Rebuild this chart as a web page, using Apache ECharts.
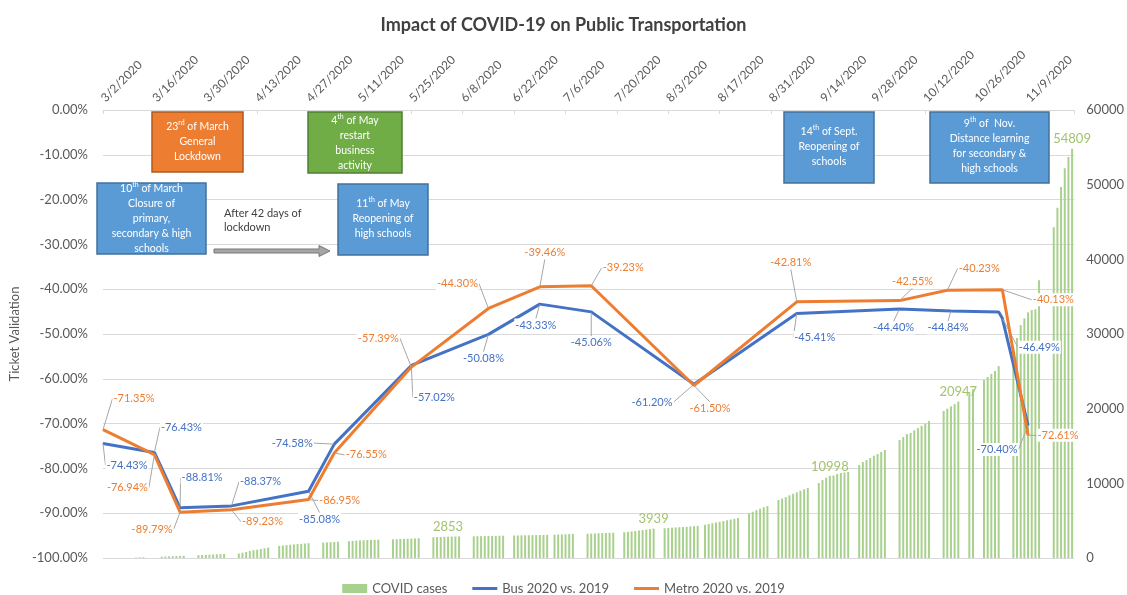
<!DOCTYPE html>
<html>
<head>
<meta charset="utf-8">
<script src="https://cdn.jsdelivr.net/npm/echarts@6/dist/echarts.min.js"></script>
<style>
  html, body { margin: 0; padding: 0; background: #fff; }
  #chart { width: 1127px; height: 595px; }
</style>
</head>
<body>
<div id="chart"></div>
<script>
// top axis tick labels, one every 14 days starting 3/2/2020 (day 0)
var dateLabels = ['3/2/2020','3/16/2020','3/30/2020','4/13/2020','4/27/2020','5/11/2020','5/25/2020',
  '6/8/2020','6/22/2020','7/6/2020','7/20/2020','8/3/2020','8/17/2020','8/31/2020','9/14/2020',
  '9/28/2020','10/12/2020','10/26/2020','11/9/2020'];

// [day, % change vs 2019]
var busData = [[0,-74.43],[14,-76.43],[21,-88.81],[35,-88.37],[56,-85.08],[63,-74.58],[84,-57.02],
  [105,-50.08],[119,-43.33],[133,-45.06],[161,-61.20],[189,-45.41],[217,-44.40],[231,-44.84],
  [244,-45.10],[245,-46.49],[252,-70.40]];
var metroData = [[0,-71.35],[14,-76.94],[21,-89.79],[35,-89.23],[56,-86.95],[63,-76.55],[84,-57.39],
  [105,-44.30],[119,-39.46],[133,-39.23],[161,-61.50],[189,-42.81],[217,-42.55],[230,-40.23],
  [245,-40.13],[252,-72.61]];

// [day, cumulative covid cases]
var covidCases = [
  [9,60],[10,80],[11,100],
  [16,180],[17,200],[18,220],[19,240],[20,260],[21,280],[22,300],
  [26,380],[27,400],[28,430],[29,450],[30,470],[31,490],[32,510],[33,530],
  [37,600],[38,700],[39,820],[40,930],[41,1050],[42,1110],[43,1200],[44,1300],[45,1400],
  [48,1620],[49,1680],[50,1730],[51,1780],[52,1820],[53,1860],[54,1900],[55,1940],[56,1980],
  [60,2060],[61,2090],[62,2120],[63,2150],[64,2180],
  [67,2250],[68,2290],[69,2320],[70,2350],[71,2380],[72,2400],[73,2420],[74,2440],[75,2460],
  [79,2500],[80,2520],[81,2540],[82,2560],[83,2580],[84,2600],[85,2620],[86,2640],
  [90,2780],[91,2800],[92,2820],[93,2836],[94,2853],[95,2870],[96,2880],[97,2890],
  [101,2910],[102,2920],[103,2930],[104,2940],[105,2950],[106,2960],[107,2970],[108,2980],[109,2990],
  [112,3010],[113,3020],[114,3030],[115,3040],[116,3050],[117,3060],[118,3070],[119,3080],[120,3090],[121,3100],
  [123,3120],[124,3140],[125,3160],[126,3180],[127,3200],[128,3220],
  [132,3250],[133,3270],[134,3290],[135,3310],[136,3330],[137,3350],[138,3370],[139,3390],
  [142,3450],[143,3500],[144,3560],[145,3620],[146,3680],[147,3740],[148,3800],[149,3870],[150,3939],
  [153,3990],[154,4030],[155,4060],[156,4090],[157,4120],[158,4150],[159,4180],[160,4220],[161,4260],[162,4300],
  [164,4450],[165,4550],[166,4650],[167,4750],[168,4850],[169,4950],[170,5050],[171,5150],[172,5250],[173,5350],
  [176,6000],[177,6200],[178,6400],[179,6600],[180,6800],[181,6950],
  [184,7770],[185,7950],[186,8150],[187,8400],[188,8600],[189,8800],[190,9000],[191,9200],[192,9370],
  [195,10040],[196,10440],[197,10750],[198,10998],[199,11050],[200,11250],[201,11380],[202,11450],[203,11520],
  [206,12450],[207,12850],[208,13120],[209,13400],[210,13700],[211,13930],[212,14190],[213,14460],
  [217,15800],[218,16200],[219,16600],[220,16750],[221,17100],[222,17400],[223,17700],[224,18000],[225,18340],
  [229,19700],[230,20000],[231,20300],[232,20600],[233,20947],
  [236,22230],[237,22600],
  [240,23830],[241,24240],[242,24640],[243,25040],[244,25700],
  [248,28000],[249,29460],[250,31200],[251,32100],[252,32900],[253,33200],[254,33300],[255,37200],
  [259,44300],[260,46900],[261,49700],[262,52200],[263,53700],[264,54809]
];
var labelledCaseDays = [94,150,198,233,264];

// label placement (px from point) for each line point, null = no label
var busLabelOffsets = [[24,22],[27,-25],[22,-30],[29,-24],[11,28],[-42,-1],[23,32],[-5,24],[-4,21],
  [0,31],[-42,18],[18,24],[-6,19],[-3,17],null,[37,29],[-31,24]];
var metroLabelOffsets = [[31,-31],[-27,33],[-28,17],[31,12],[31,1],[32,2],[-33,-29],[-31,-25],[5,-34],
  [32,-18],[16,23],[-6,-39],[13,-19],[32,-22],[51,10],[30,0]];

var FONT = 'Lato';
var chart = echarts.init(document.getElementById('chart'));

function lineLabel(color) {
  return {
    show: true, position: 'inside', color: color, fontSize: 11, fontFamily: FONT,
    backgroundColor: '#fff', padding: [1, 1],
    formatter: function (p) { return p.value[1].toFixed(2) + '%'; }
  };
}

function lineItems(data, offsets) {
  return data.map(function (d, i) {
    return offsets[i] ? d : { value: d, label: { show: false }, labelLine: { show: false } };
  });
}

function layoutFor(offsets) {
  return function (p) {
    var o = offsets[p.dataIndex];
    return o ? { dx: o[0], dy: o[1] } : {};
  };
}

// annotation box
function box(x, y, w, h, fill, stroke, text, cy) {
  return [
    { type: 'rect', z: 50, shape: { x: x, y: y, width: w, height: h },
      style: { fill: fill, stroke: stroke, lineWidth: 1.5 } },
    { type: 'text', z: 51, x: x + w / 2, y: cy,
      style: { text: text, fill: '#fff', fontSize: 10.5, fontFamily: FONT, align: 'center',
        verticalAlign: 'middle', lineHeight: 15,
        rich: { s: { fontSize: 7, verticalAlign: 'top', fill: '#fff', fontFamily: FONT, lineHeight: 15, padding: [0, 0, 6, 0] } } } }
  ];
}

var graphics = [].concat(
  box(97, 183, 109, 71, '#5B9BD5', '#41719C', '10{s|th} of March\nClosure of\nprimary,\nsecondary & high\nschools', 219),
  box(152, 112, 91, 60, '#ED7D31', '#AE5A21', '23{s|rd} of March\nGeneral\nLockdown', 142),
  box(308, 112, 94, 61, '#70AD47', '#507E32', '4{s|th} of May\nrestart\nbusiness\nactivity', 143),
  box(338, 184, 90, 71, '#5B9BD5', '#41719C', '11{s|th} of May\nReopening of\nhigh schools', 219),
  box(784, 112, 90, 71, '#5B9BD5', '#41719C', '14{s|th} of Sept.\nReopening of\nschools', 147),
  box(930, 112, 119, 71, '#5B9BD5', '#41719C', '9{s|th} of  Nov.\nDistance learning\nfor secondary &\nhigh schools', 146),
  [
    { type: 'text', z: 51, x: 224, y: 220,
      style: { text: 'After 42 days of\nlockdown', fill: '#404040', fontSize: 11, fontFamily: FONT,
        align: 'left', verticalAlign: 'middle', lineHeight: 14 } },
    { type: 'polygon', z: 51,
      shape: { points: [[214,249],[319,249],[319,245.5],[330,251],[319,256.5],[319,253],[214,253]] },
      style: { fill: '#A5A5A5', stroke: '#787878', lineWidth: 1 } }
  ]
);

var option = {
  animation: false,
  textStyle: { fontFamily: FONT },
  title: {
    text: 'Impact of COVID-19 on Public Transportation',
    left: 'center', top: 11,
    textStyle: { fontSize: 18, fontWeight: 'bold', color: '#404040', fontFamily: FONT }
  },
  legend: {
    bottom: -5, left: 'center', itemGap: 25, itemWidth: 25, itemHeight: 9,
    textStyle: { color: '#595959', fontSize: 13, fontFamily: FONT },
    data: [
      { name: 'COVID cases', icon: 'rect' },
      { name: 'Bus 2020 vs. 2019', icon: 'path://M0,0H25V3H0Z' },
      { name: 'Metro 2020 vs. 2019', icon: 'path://M0,0H25V3H0Z' }
    ]
  },
  grid: { left: 103, right: 52, top: 110, bottom: 37 },
  xAxis: {
    type: 'value', position: 'top', min: 0, max: 264.6, interval: 14,
    axisLine: { lineStyle: { color: '#D9D9D9' } },
    axisTick: { inside: true, length: 4, lineStyle: { color: '#D9D9D9' } },
    splitLine: { show: false },
    axisLabel: {
      rotate: 45, margin: 10, color: '#595959', fontSize: 12, fontFamily: FONT,
      formatter: function (v) { return v % 14 === 0 ? dateLabels[v / 14] : ''; }
    }
  },
  yAxis: [
    {
      type: 'value', min: -100, max: 0, interval: 10,
      name: 'Ticket Validation', nameLocation: 'middle', nameGap: 72,
      nameTextStyle: { color: '#595959', fontSize: 13, fontFamily: FONT },
      axisLine: { show: false }, axisTick: { show: false },
      splitLine: { lineStyle: { color: '#D9D9D9' } },
      axisLabel: { margin: 15, color: '#595959', fontSize: 13, fontFamily: FONT,
        formatter: function (v) { return v.toFixed(2) + '%'; } }
    },
    {
      type: 'value', min: 0, max: 60000, interval: 10000, position: 'right',
      axisLine: { show: false }, axisTick: { show: false }, splitLine: { show: false },
      axisLabel: { margin: 12, color: '#595959', fontSize: 13, fontFamily: FONT,
        formatter: function (v) { return String(v); } }
    }
  ],
  series: [
    {
      name: 'COVID cases', type: 'bar', yAxisIndex: 1, barWidth: 2, z: 1,
      itemStyle: { color: '#A9D18E' },
      data: covidCases.map(function (d) {
        var show = labelledCaseDays.indexOf(d[0]) >= 0;
        return { value: d, label: { show: show } };
      }),
      label: { position: 'top', distance: 3, color: '#A3C46F', fontSize: 13, fontFamily: FONT,
        formatter: function (p) { return String(p.value[1]); } }
    },
    {
      name: 'Bus 2020 vs. 2019', type: 'line', yAxisIndex: 0, z: 3,
      data: lineItems(busData, busLabelOffsets), symbol: 'circle', symbolSize: 1, showSymbol: true,
      lineStyle: { color: '#4472C4', width: 3 }, itemStyle: { color: '#4472C4' },
      label: lineLabel('#4472C4'),
      labelLine: { show: true, lineStyle: { color: '#A6A6A6', width: 1 } },
      labelLayout: layoutFor(busLabelOffsets)
    },
    {
      name: 'Metro 2020 vs. 2019', type: 'line', yAxisIndex: 0, z: 4,
      data: lineItems(metroData, metroLabelOffsets), symbol: 'circle', symbolSize: 1, showSymbol: true,
      lineStyle: { color: '#ED7D31', width: 3 }, itemStyle: { color: '#ED7D31' },
      label: lineLabel('#ED7D31'),
      labelLine: { show: true, lineStyle: { color: '#A6A6A6', width: 1 } },
      labelLayout: layoutFor(metroLabelOffsets)
    }
  ],
  graphic: graphics
};

chart.setOption(option);
</script>
</body>
</html>
